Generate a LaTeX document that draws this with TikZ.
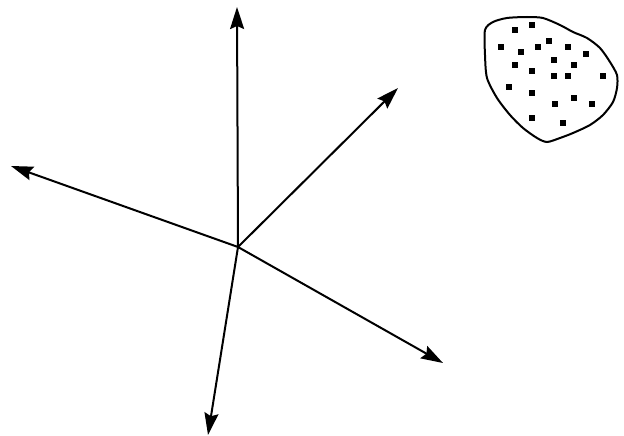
\documentclass[tikz,border=0pt]{standalone}
\usepackage{tikz}
\usetikzlibrary{arrows.meta}
\tikzset{
	axisline/.style={
		line width=2pt,
		-{Stealth[length=22pt,width=14pt,inset=3pt]}
	},
	region/.style={line width=2pt, black},
	spot/.style={
		draw=none, fill=black, rectangle,
		minimum size=5.5pt, inner sep=0pt
	}
}
\begin{document}
\begin{tikzpicture}[x=1pt,y=-1pt]
				\useasboundingbox (0,0) rectangle (624,436);
				\coordinate (O) at (238,247);
				\coordinate (up) at (237,7);
				\coordinate (ne) at (398,88);
				\coordinate (west) at (11,166);
				\coordinate (se) at (443,363);
				\coordinate (down) at (208,435);
				\draw[axisline] (O) -- (up);
				\draw[axisline] (O) -- (ne);
				\draw[axisline] (O) -- (west);
				\draw[axisline] (O) -- (se);
				\draw[axisline] (O) -- (down);
				% the set
				\draw[region] plot[smooth cycle, tension=0.45] coordinates {
					(485,30) (493,22) (507,18) (527,17) (543,18) (560,25)
					(573,32) (587,38) (600,48) (610,62) (617,75) (617,88)
					(613,102) (603,115) (590,125) (573,133) (560,138)
					(547,142) (537,138) (523,128) (510,115) (497,98)
					(487,78) (485,55)};
				\foreach \x/\y [count=\i] in {515/30, 532/25, 501/47, 521/52, 538/47,
						549/41, 568/47, 586/54, 515/65, 532/71, 554/60, 574/65,
						554/76, 568/76, 603/76, 509/87, 532/93, 555/104, 574/98,
						592/104, 532/118, 563/123}
					\node[spot] (p\i) at (\x,\y) {};
			\end{tikzpicture}
\end{document}
